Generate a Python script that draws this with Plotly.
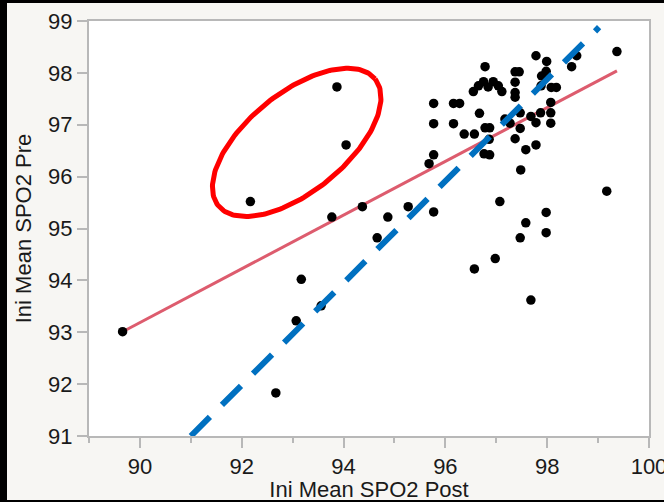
import numpy as np
import plotly.graph_objects as go

# ---- data ----
post = [89.66, 92.17, 93.87, 94.05, 93.77, 94.37, 94.87, 95.27, 95.77, 94.66,
        93.17, 93.56, 93.07, 92.67,
        97.98, 97.58, 97.98, 97.47, 96.98, 96.57, 97.68, 97.07, 99.17, 97.48,
        95.77, 95.68, 95.77, 96.16, 96.28, 95.77, 96.16, 96.67, 96.37, 96.57,
        96.78, 96.87, 96.86, 96.76, 96.87, 96.78,
        96.55, 96.65, 96.75, 96.84, 96.94, 97.04, 97.11,
        97.37, 97.45, 97.37, 97.37, 97.37,
        97.78, 97.99, 98.58, 98.48, 99.37,
        97.89, 97.98, 97.88, 98.08, 98.18, 98.07,
        97.87, 98.07, 98.07, 97.47, 97.17, 97.27, 97.68, 97.78,
        97.47, 97.37, 97.58, 97.78]
pre = [93.01, 95.52, 97.73, 96.61, 95.22, 95.42, 95.22, 95.42, 95.32, 94.82,
       94.02, 93.51, 93.22, 91.83,
       95.31, 95.11, 94.92, 94.82, 94.42, 94.22, 93.62, 95.52, 95.72, 96.13,
       96.42, 96.25, 97.41, 97.41, 97.41, 97.02, 97.02, 97.22, 96.82, 96.82,
       96.94, 96.94, 96.72, 96.44, 96.42, 98.12,
       97.64, 97.75, 97.83, 97.73, 97.83, 97.75, 97.64,
       98.02, 98.02, 97.82, 97.62, 97.53,
       98.33, 98.22, 98.33, 98.12, 98.41,
       97.94, 98.03, 97.75, 97.72, 97.72, 97.43,
       97.23, 97.23, 97.03, 97.23, 97.11, 97.03, 97.16, 97.04,
       96.93, 96.73, 96.52, 96.61]

fit_x = [89.66, 99.37]
fit_y = [93.01, 98.04]

ident_x = [91.0, 99.02]
ident_y = [91.0, 98.88]

# highlight ellipse (center, semi-axes in x units, tilt in degrees)
ell_cx, ell_cy = 93.08, 96.66
ell_a, ell_b, ell_ang = 1.98, 0.97, 39.0

x_ticks = [90, 92, 94, 96, 98, 100]
y_ticks = [91, 92, 93, 94, 95, 96, 97, 98, 99]

# ---- build ----
xpx = 560 / 11.0
ypx = 415 / 8.0
t = np.linspace(0, 2 * np.pi, 200)
th = np.deg2rad(ell_ang)
ex = ell_cx + ell_a * np.cos(t) * np.cos(th) - ell_b * np.sin(t) * np.sin(th)
ey = ell_cy + (ell_a * np.cos(t) * np.sin(th) + ell_b * np.sin(t) * np.cos(th)) * xpx / ypx

fig = go.Figure()
fig.add_trace(go.Scatter(x=fit_x, y=fit_y, mode="lines",
                         line=dict(color="#dd5c6e", width=3), hoverinfo="skip"))
fig.add_trace(go.Scatter(x=post, y=pre, mode="markers",
                         marker=dict(color="black", size=9.5, line=dict(width=0))))
fig.add_trace(go.Scatter(x=ident_x, y=ident_y, mode="lines",
                         line=dict(color="#0070c0", width=6, dash="27px,17px"),
                         hoverinfo="skip"))
fig.add_trace(go.Scatter(x=ex, y=ey, mode="lines",
                         line=dict(color="#ff0000", width=5), hoverinfo="skip"))

frame = "#b8b8b8"
font = dict(family="Liberation Sans, Arial, Helvetica, sans-serif", color="#1a1a1a")

fig.update_layout(
    width=664, height=502,
    margin=dict(l=89, r=15, t=21, b=66, autoexpand=False),
    paper_bgcolor="#f7f6f3",
    plot_bgcolor="white",
    showlegend=False,
    font=font,
    xaxis=dict(range=[89, 100], tickvals=x_ticks, ticks="outside", ticklen=10,
               tickwidth=1.5, tickcolor=frame, showline=True, mirror=True,
               linecolor=frame, linewidth=2, showgrid=False, zeroline=False,
               tickfont=dict(size=22), ticklabeloverflow="allow",
               minor=dict(ticks="outside", ticklen=5, dtick=1, tick0=89,
                          tickcolor=frame, tickwidth=1.5, showgrid=False),
               title=dict(text="Ini Mean SPO2 Post", font=dict(size=22), standoff=2)),
    yaxis=dict(range=[91, 99], tickvals=y_ticks, ticks="outside", ticklen=10,
               tickwidth=1.5, tickcolor=frame, showline=True, mirror=True,
               linecolor=frame, linewidth=2, showgrid=False, zeroline=False,
               tickfont=dict(size=22), ticklabeloverflow="allow",
               title=dict(text="Ini Mean SPO2 Pre", font=dict(size=22), standoff=10)),
    shapes=[
        dict(type="rect", xref="paper", yref="paper", x0=-0.3, x1=(7 - 89) / 560,
             y0=-0.4, y1=1.3, fillcolor="black", line=dict(width=0), layer="above"),
        dict(type="rect", xref="paper", yref="paper", x0=-0.3, x1=1.3,
             y0=(436 - 3) / 415, y1=1.3, fillcolor="black", line=dict(width=0), layer="above"),
        dict(type="rect", xref="paper", yref="paper", x0=-0.3, x1=1.3,
             y0=-0.4, y1=(436 - 500) / 415, fillcolor="black", line=dict(width=0), layer="above"),
    ],
)

fig.write_html("out.html", config={"displayModeBar": False},
               post_script="document.body.style.margin='0';document.body.style.overflow='hidden';")
